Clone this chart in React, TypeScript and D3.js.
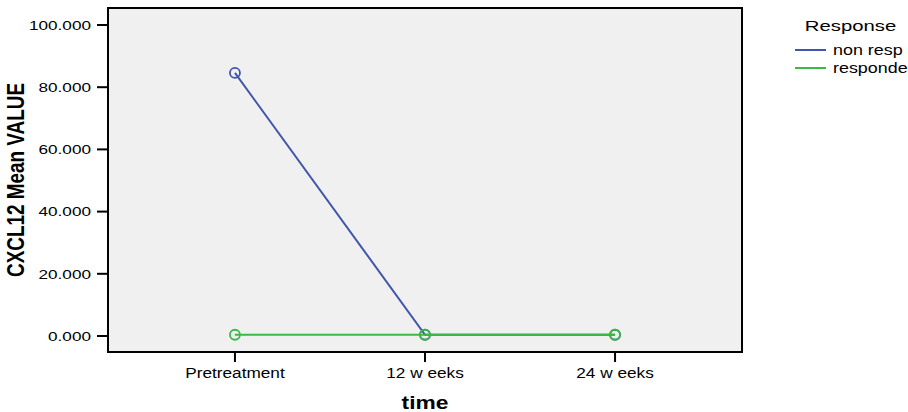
import React, { useEffect, useRef } from "react";
import * as d3 from "d3";

const categories = ["Pretreatment", "12 w eeks", "24 w eeks"];
const seriesNames = ["non resp", "responde"];
const nonResp = [84.6, 0.4, 0.4];
const responder = [0.4, 0.4, 0.4];
const yTicks = [0, 20, 40, 60, 80, 100];
const colors = ["#3f56ab", "#3cb846"];

export default function App() {
  const ref = useRef<SVGSVGElement>(null);
  useEffect(() => {
    const svg = d3.select(ref.current!);
    svg.selectAll("*").remove();
    const W = 908, H = 412;
    const m = { left: 108, top: 8, right: 742, bottom: 352 };
    const x = d3.scalePoint<string>().domain(categories).range([m.left, m.right]).padding(0.668);
    const y = d3.scaleLinear().domain([0, 100]).range([336, 25]);
    const font = "'Liberation Sans', Arial, sans-serif";

    const txt = (s: string, tx: number, ty: number, size: number, sx: number,
                 anchor = "start", weight = "normal") =>
      svg.append("text")
        .attr("transform", `translate(${tx},${ty}) scale(${sx},1)`)
        .attr("text-anchor", anchor).attr("font-family", font).attr("font-size", size)
        .attr("font-weight", weight).attr("fill", "#000").text(s);

    svg.append("rect").attr("width", W).attr("height", H).attr("fill", "#fff");
    svg.append("rect")
      .attr("x", m.left).attr("y", m.top)
      .attr("width", m.right - m.left).attr("height", m.bottom - m.top)
      .attr("fill", "#f0f0f0").attr("stroke", "#000").attr("stroke-width", 2);

    // y ticks
    yTicks.forEach(t => {
      svg.append("line").attr("x1", 97).attr("x2", m.left).attr("y1", y(t)).attr("y2", y(t))
        .attr("stroke", "#000").attr("stroke-width", 2);
      txt(d3.format(".3f")(t), 91, y(t) + 4.7, 13, 1.32, "end");
    });
    // x ticks
    categories.forEach(c => {
      svg.append("line").attr("x1", x(c)!).attr("x2", x(c)!).attr("y1", m.bottom).attr("y2", 362)
        .attr("stroke", "#000").attr("stroke-width", 2);
      txt(c, x(c)!, 378, 14, 1.23, "middle");
    });

    // axis titles
    txt("time", 425, 409, 19, 1.2, "middle", "bold");
    svg.append("text").attr("transform", "translate(23.5,180) rotate(-90) scale(1,1.22)")
      .attr("text-anchor", "middle")
      .attr("font-family", font).attr("font-weight", "bold").attr("font-size", 19)
      .attr("textLength", 194).attr("lengthAdjust", "spacingAndGlyphs")
      .text("CXCL12 Mean VALUE");

    const line = d3.line<number>().x((_, i) => x(categories[i])!).y(d => y(d));
    [nonResp, responder].forEach((s, k) => {
      svg.append("path").attr("d", line(s)!).attr("fill", "none")
        .attr("stroke", colors[k]).attr("stroke-width", 2);
      s.forEach((v, i) => {
        svg.append("circle").attr("cx", x(categories[i])!).attr("cy", y(v)).attr("r", 5)
          .attr("fill", "none").attr("stroke", colors[k]).attr("stroke-width", 1.8);
      });
    });

    // legend
    txt("Response", 850.5, 31, 14.5, 1.4, "middle");
    seriesNames.forEach((n, k) => {
      const ly = 50 + k * 18;
      svg.append("line").attr("x1", 795).attr("x2", 826).attr("y1", ly).attr("y2", ly)
        .attr("stroke", colors[k]).attr("stroke-width", 2);
      txt(n, 833, ly + 5, 14, 1.28, "start");
    });
  }, []);
  return (
    <div style={{ position: "absolute", left: 0, top: 0 }}>
      <svg ref={ref} width={908} height={412} style={{ display: "block" }} />
    </div>
  );
}
